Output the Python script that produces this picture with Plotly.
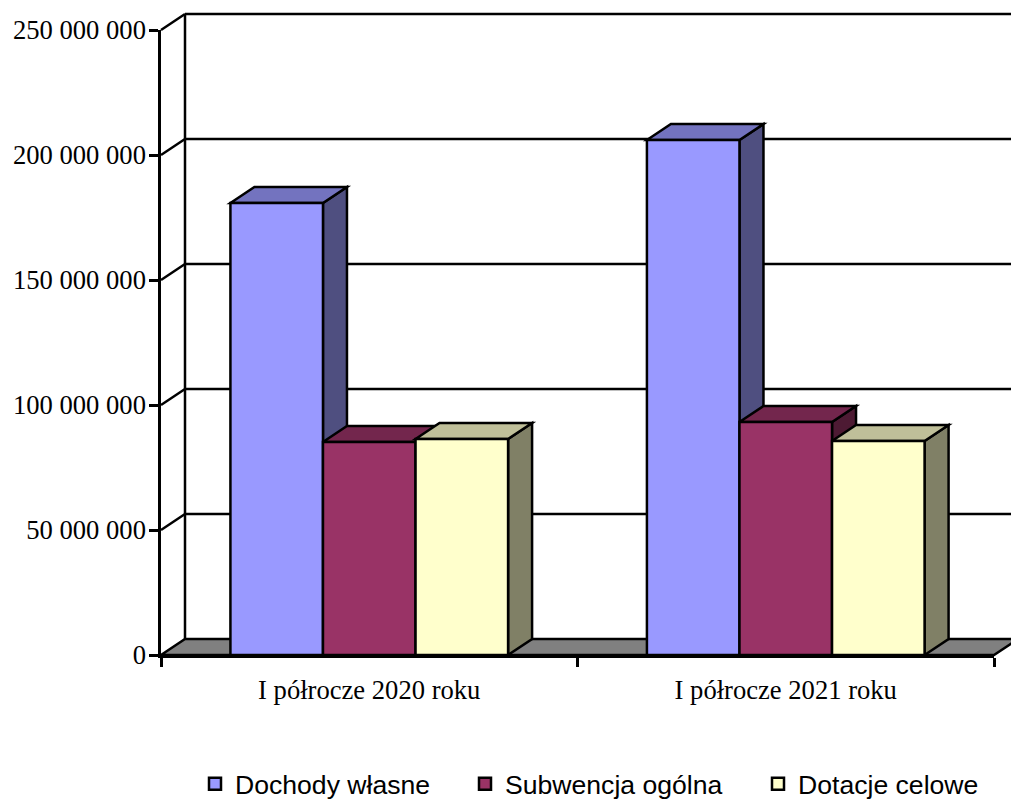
import plotly.graph_objects as go

categories = ["I półrocze 2020 roku", "I półrocze 2021 roku"]
series_names = ["Dochody własne", "Subwencja ogólna", "Dotacje celowe"]
dochody_wlasne = [180800000, 206000000]
subwencja_ogolna = [85200000, 93200000]
dotacje_celowe = [86400000, 85600000]
tick_values = [0, 50000000, 100000000, 150000000, 200000000, 250000000]

front_colors = ["#9999FF", "#993366", "#FFFFCC"]
top_colors = ["#7373BF", "#73264D", "#BFBF99"]
side_colors = ["#4F4F80", "#4D1A33", "#808066"]

W, H = 1011, 800
LEFT, RIGHT, TOP, BOTTOM = 161, 994, 30, 655
YMAX = tick_values[-1]
DX = 24 / (RIGHT - LEFT)   # depth, as a fraction of the x domain
DY = 16 / (BOTTOM - TOP)   # depth, as a fraction of the y domain
LINE = 2.5
BAR_W = 1 / 4.5            # category widths per bar
legend_text_left = [235, 505, 798]


def fx(x):
    return (x + 0.5) / 2


def fy(v):
    return v / YMAX


def poly(points, fill, layer="below"):
    path = "M " + " L ".join(f"{x:.6f},{y:.6f}" for x, y in points) + " Z"
    return dict(type="path", xref="x domain", yref="y domain", path=path,
                fillcolor=fill, line=dict(color="black", width=LINE), layer=layer)


def seg(x0, y0, x1, y1):
    return dict(type="line", xref="x domain", yref="y domain", x0=x0, y0=y0, x1=x1, y1=y1,
                line=dict(color="black", width=LINE), layer="below")


shapes = []
# floor
shapes.append(poly([(0, 0), (DX, DY), (1 + DX, DY), (1, 0)], "#808080"))
# back wall + left wall
shapes.append(seg(DX, DY, DX, 1 + DY))
for t in tick_values[1:]:
    shapes.append(seg(0, fy(t), DX, fy(t) + DY))
    shapes.append(seg(DX, fy(t) + DY, 1 + DX, fy(t) + DY))

# bar top and side faces, derived from the values
all_series = [dochody_wlasne, subwencja_ogolna, dotacje_celowe]
for c in range(len(categories)):
    for s, values in enumerate(all_series):
        x0 = fx(c + (s - 1.5) * BAR_W)
        x1 = fx(c + (s - 0.5) * BAR_W)
        v = fy(values[c])
        shapes.append(poly([(x1, 0), (x1 + DX, DY), (x1 + DX, v + DY), (x1, v)], side_colors[s]))
        shapes.append(poly([(x0, v), (x0 + DX, v + DY), (x1 + DX, v + DY), (x1, v)], top_colors[s]))

fig = go.Figure()
legend_ids = ["legend", "legend2", "legend3"]
for s, values in enumerate(all_series):
    fig.add_trace(go.Bar(name=series_names[s], x=categories, y=values, legend=legend_ids[s],
                         showlegend=True,
                         marker=dict(color=front_colors[s], line=dict(color="black", width=LINE))))

legends = {}
for s, lid in enumerate(legend_ids):
    legends[lid] = dict(xref="paper", yref="paper", orientation="h",
                        x=(legend_text_left[s] - 40) / W, xanchor="left",
                        y=1 - 784 / H, yanchor="middle",
                        font=dict(family="Liberation Sans", size=26.6, color="black"),
                        bgcolor="rgba(0,0,0,0)", borderwidth=0)

fig.update_layout(
    width=W, height=H, autosize=False,
    margin=dict(l=0, r=0, t=0, b=0, autoexpand=False),
    paper_bgcolor="white", plot_bgcolor="rgba(0,0,0,0)",
    barmode="group", bargap=1 / 3, bargroupgap=0,
    separators=", ",
    shapes=shapes,
    font=dict(family="Liberation Serif", size=26.6, color="black"),
    xaxis=dict(domain=[LEFT / W, RIGHT / W], type="category", range=[-0.5, 1.5], automargin=False,
               tickson="boundaries", ticks="outside", ticklen=9, tickwidth=LINE, tickcolor="black",
               showgrid=False, zeroline=False, showline=True, linewidth=LINE, linecolor="black",
               ticklabelstandoff=9),
    yaxis=dict(domain=[1 - BOTTOM / H, 1 - TOP / H], range=[0, YMAX], automargin=False,
               tickmode="array", tickvals=tick_values, tickformat=",d",
               ticks="outside", ticklen=9, tickwidth=LINE, tickcolor="black",
               showgrid=False, zeroline=False, showline=True, linewidth=LINE, linecolor="black",
               ticklabelstandoff=-2),
    **legends,
)

fig.write_html("out.html", config={"displayModeBar": False},
               post_script="document.body.style.margin='0';")
